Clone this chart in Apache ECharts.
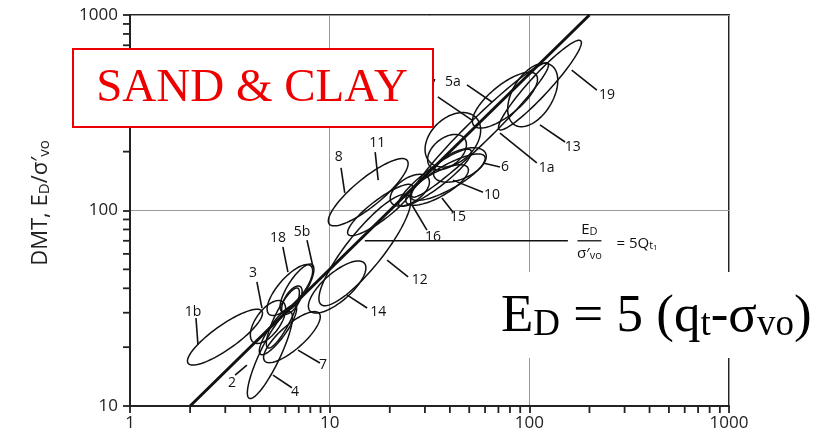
<!DOCTYPE html>
<html><head><meta charset="utf-8">
<script src="https://cdn.jsdelivr.net/npm/echarts@6/dist/echarts.min.js"></script>
<style>html,body{margin:0;padding:0;background:#fff}#c{width:836px;height:436px}</style>
</head><body><div id="c"></div>
<script>
// ---- axis ticks ----
const xMajor = [1, 10, 100, 1000];
const yMajor = [10, 100, 1000];
const minorMult = [2, 3, 4, 5, 6, 7, 8, 9];

// ---- correlation line  E_D/σ'vo = 5 Qt1 ----
const lineQ = [2, 200];
const lineED = [10, 1000];

// ---- ellipses (centre Qt1, centre ED/σ'vo, semi-axes in log decades, tilt deg) ----
const ellName = ['1b','3','2','4','7','18','5b','in1','in2','14','12','8','11','16','15','10','6','in3','in4','17','5a','1a','13','19'];
const ellQ    = [2.99, 4.91, 5.51, 5.02, 6.47, 6.32, 6.86, 6.47, 5.83, 10.9, 15.0, 15.6, 17.9, 25.2, 34.5, 39.1, 44.9, 33.7, 38.7, 41.4, 75.5, 56.6, 104, 113];
const ellE    = [22.5, 26.9, 24.5, 18.2, 22.5, 39.2, 40.1, 34.8, 28.2, 40.6, 62.8, 124, 100.6, 127, 135, 148, 171, 147, 199, 230, 367, 258, 390, 438];
const ellA    = [0.228, 0.127, 0.152, 0.244, 0.183, 0.162, 0.142, 0.081, 0.170, 0.183, 0.355, 0.254, 0.203, 0.112, 0.178, 0.213, 0.142, 0.228, 0.112, 0.162, 0.203, 0.482, 0.178, 0.305];
const ellB    = [0.061, 0.061, 0.041, 0.051, 0.061, 0.061, 0.046, 0.036, 0.040, 0.071, 0.091, 0.071, 0.051, 0.061, 0.061, 0.061, 0.071, 0.051, 0.071, 0.112, 0.076, 0.061, 0.102, 0.051];
const ellAng  = [36, 55, 55, 65, 42, 50, 58, 60, 64, 42, 52, 40, 38, 35, 30, 30, 25, 38, 40, 45, 40, 45, 60, 48];

// ---- ellipse labels (text position) and leader lines ----
const labText = ['1b','3','2','4','7','18','5b','14','12','8','11','16','15','10','6','17','5a','1a','13','19'];
const labQ    = [2.07, 4.13, 3.24, 6.70, 9.25, 5.51, 7.27, 17.5, 28.3, 11.1, 17.3, 32.9, 43.9, 65.0, 75.5, 31.1, 41.4, 122, 165, 245];
const labE    = [30.3, 47.9, 13.1, 11.8, 16.2, 72.3, 77.6, 30.3, 44.1, 188, 221, 73.2, 92.7, 120, 167, 439, 454, 165, 211, 390];
const leadQ1  = [2.14, 4.32, 3.36, 5.20, 6.94, 5.83, 7.70, 12.2, 19.4, 11.4, 16.9, 25.8, 36.5, 41.4, 58.6, 34.8, 48.7, 71.3, 113, 163];
const leadE1  = [28.2, 43.1, 14.4, 14.4, 19.3, 65.1, 70.6, 37.0, 55.8, 165, 199, 107, 116, 143, 175, 381, 439, 249, 274, 523];
const leadQ2  = [2.19, 4.58, 3.85, 6.47, 8.94, 6.18, 8.25, 15.4, 24.7, 11.9, 17.5, 30.7, 41.4, 58.6, 71.3, 51.6, 65.0, 109, 151, 218];
const leadE2  = [20.5, 31.7, 16.2, 12.4, 16.6, 48.4, 51.4, 31.7, 45.7, 123, 143, 79.4, 98.2, 124, 167, 290, 359, 175, 224, 413];

// ---- equation annotation ----
const eqLeadQ = [15, 156];
const eqLeadE = [70, 70];
const eqAnchor = [200, 70];

const FONT = '"Open Sans", "DejaVu Sans", sans-serif';
const SERIF = '"Liberation Serif", "DejaVu Serif", serif';

const chart = echarts.init(document.getElementById('c'));
const lab = v => String(Math.round(v));
const subRich = (fs, lh) => ({ fontSize: fs, fontFamily: FONT, fill: '#111', verticalAlign: 'bottom', lineHeight: lh });

chart.setOption({
  animation: false,
  grid: { left: 130, right: 107, top: 15, bottom: 30, show: true, borderColor: '#222', borderWidth: 2 },
  xAxis: {
    type: 'log', min: 1, max: 1000,
    axisLine: { lineStyle: { color: '#222', width: 2 } },
    axisTick: { show: true, length: 7, lineStyle: { color: '#222', width: 1.8 } },
    axisLabel: { formatter: lab, color: '#222', fontSize: 17, fontFamily: FONT, margin: 9 },
    splitLine: { show: true, lineStyle: { color: '#999', width: 1 } }
  },
  yAxis: {
    type: 'log', min: 10, max: 1000,
    axisLine: { lineStyle: { color: '#222', width: 2 } },
    axisTick: { show: true, length: 7, lineStyle: { color: '#222', width: 1.8 } },
    axisLabel: { formatter: lab, color: '#222', fontSize: 17, fontFamily: FONT, margin: 12 },
    splitLine: { show: true, lineStyle: { color: '#999', width: 1 } }
  },
  series: [
    { type: 'custom', name: 'ellipses', silent: true, clip: true,
      data: ellName.map((n, i) => [ellQ[i], ellE[i], i]),
      renderItem: (params, api) => {
        const i = params.dataIndex;
        const lx0 = Math.log10(ellQ[i]), ly0 = Math.log10(ellE[i]);
        const a = ellA[i], b = ellB[i], th = ellAng[i] * Math.PI / 180;
        const pts = [];
        for (let k = 0; k < 90; k++) {
          const t = k / 90 * 2 * Math.PI;
          const u = a * Math.cos(t), v = b * Math.sin(t);
          const lx = lx0 + u * Math.cos(th) - v * Math.sin(th);
          const ly = ly0 + u * Math.sin(th) + v * Math.cos(th);
          pts.push(api.coord([Math.pow(10, lx), Math.pow(10, ly)]));
        }
        return { type: 'polygon', shape: { points: pts }, style: { fill: 'none', stroke: '#111', lineWidth: 1.5 } };
      } },
    { type: 'line', name: '5Qt1', silent: true, symbol: 'none',
      data: lineQ.map((q, i) => [q, lineED[i]]),
      lineStyle: { color: '#111', width: 3 } },
    { type: 'custom', name: 'leaders', silent: true, clip: false,
      data: labText.map((t, i) => [leadQ1[i], leadE1[i], leadQ2[i], leadE2[i]]).concat([[eqLeadQ[0], eqLeadE[0], eqLeadQ[1], eqLeadE[1]]]),
      renderItem: (params, api) => {
        const p1 = api.coord([api.value(0), api.value(1)]);
        const p2 = api.coord([api.value(2), api.value(3)]);
        return { type: 'line', shape: { x1: p1[0], y1: p1[1], x2: p2[0], y2: p2[1] }, style: { stroke: '#111', lineWidth: 1.6 } };
      } },
    { type: 'custom', name: 'labels', silent: true, clip: false,
      data: labText.map((t, i) => [labQ[i], labE[i], i]),
      renderItem: (params, api) => {
        const p = api.coord([api.value(0), api.value(1)]);
        return { type: 'text', x: p[0], y: p[1], style: { text: labText[params.dataIndex], fill: '#111', font: '14px ' + FONT, align: 'center', verticalAlign: 'middle' } };
      } },
    { type: 'custom', name: 'equation', silent: true, clip: false,
      data: [eqAnchor],
      renderItem: (params, api) => {
        const p = api.coord([api.value(0), api.value(1)]);
        return { type: 'group', x: p[0], y: p[1], children: [
          { type: 'text', x: 0, y: -11, style: { text: 'E{s|D}', fill: '#111', font: '15px ' + FONT, align: 'center', verticalAlign: 'middle', rich: { s: subRich(11, 9) } } },
          { type: 'line', shape: { x1: -12, y1: 0, x2: 12, y2: 0 }, style: { stroke: '#111', lineWidth: 1.3 } },
          { type: 'text', x: 0, y: 13, style: { text: 'σ′{s|vo}', fill: '#111', font: '15px ' + FONT, align: 'center', verticalAlign: 'middle', rich: { s: subRich(11, 9) } } },
          { type: 'text', x: 27, y: 3, style: { text: '= 5Q{s|t}{ss|1}', fill: '#111', font: '15px ' + FONT, align: 'left', verticalAlign: 'middle', rich: { s: subRich(11, 9), ss: subRich(8, 2) } } }
        ] };
      } }
  ]
});

// ---- minor tick marks (positions from the library's own scales) and overlays ----
const tickEls = [];
const xs = [], ys = [];
[1, 10, 100].forEach(d => minorMult.forEach(m => xs.push(d * m)));
[10, 100].forEach(d => minorMult.forEach(m => ys.push(d * m)));
const origin = chart.convertToPixel({ gridIndex: 0 }, [1, 10]);
xs.forEach(v => {
  const px = chart.convertToPixel({ xAxisIndex: 0 }, v);
  tickEls.push({ type: 'line', z: 50, shape: { x1: px, y1: origin[1], x2: px, y2: origin[1] + 7 }, style: { stroke: '#222', lineWidth: 1.8 } });
});
ys.forEach(v => {
  const py = chart.convertToPixel({ yAxisIndex: 0 }, v);
  tickEls.push({ type: 'line', z: 50, shape: { x1: origin[0] - 7, y1: py, x2: origin[0], y2: py }, style: { stroke: '#222', lineWidth: 1.8 } });
});

chart.setOption({
  graphic: tickEls.concat([
    { type: 'text', z: 100, x: 41, y: 203, rotation: Math.PI / 2,
      style: { text: 'DMT, E{s|D}/σ′{s|vo}', fill: '#222', font: '22px ' + FONT, align: 'center', verticalAlign: 'middle',
        rich: { s: { fontSize: 15, fontFamily: FONT, fill: '#222', verticalAlign: 'bottom', lineHeight: 13 } } } },
    { type: 'rect', z: 100, shape: { x: 73, y: 49, width: 360, height: 78 }, style: { fill: '#fff', stroke: '#ee0000', lineWidth: 2 } },
    { type: 'text', z: 101, x: 252, y: 89, style: { text: 'SAND & CLAY', fill: '#ee0000', font: '47px ' + SERIF, align: 'center', verticalAlign: 'middle' } },
    { type: 'rect', z: 100, shape: { x: 488, y: 272, width: 334, height: 86 }, style: { fill: '#fff' } },
    { type: 'text', z: 101, x: 501, y: 317,
      style: { text: 'E{s|D} = 5 (q{s|t}-σ{s|vo})', fill: '#000', font: '53px ' + SERIF, align: 'left', verticalAlign: 'middle',
        rich: { s: { fontSize: 37, fontFamily: SERIF, fill: '#000', verticalAlign: 'bottom', lineHeight: 22 } } } }
  ])
});
</script></body></html>
